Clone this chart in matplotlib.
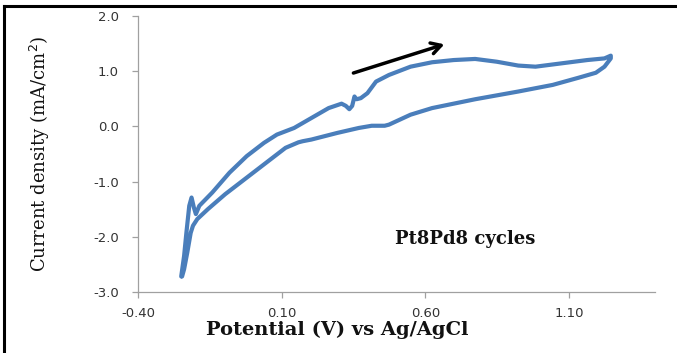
import matplotlib
matplotlib.use("Agg")
import matplotlib.pyplot as plt
from matplotlib.lines import Line2D

# Forward (anodic) branch
fwd_x = [-0.250, -0.240, -0.232, -0.222, -0.214, -0.206, -0.199, -0.187, -0.142, -0.082,
         -0.022, 0.038, 0.083, 0.143, 0.203, 0.263, 0.308, 0.323, 0.335, 0.345, 0.353,
         0.360, 0.375, 0.398, 0.428, 0.473, 0.548, 0.623, 0.698, 0.773, 0.848, 0.923,
         0.983, 1.073, 1.163, 1.223, 1.245]
fwd_y = [-2.72, -2.35, -1.93, -1.44, -1.29, -1.47, -1.59, -1.44, -1.20, -0.84,
         -0.54, -0.30, -0.15, -0.03, 0.15, 0.33, 0.41, 0.37, 0.31, 0.37, 0.54,
         0.49, 0.51, 0.60, 0.81, 0.93, 1.08, 1.16, 1.20, 1.22, 1.17, 1.10,
         1.08, 1.14, 1.20, 1.23, 1.28]
# Reverse (cathodic) branch
rev_x = [1.245, 1.223, 1.193, 1.133, 1.043, 0.923, 0.773, 0.623, 0.548, 0.473, 0.458,
         0.413, 0.368, 0.293, 0.203, 0.173, 0.158, 0.113, 0.083, 0.023, -0.037, -0.097,
         -0.157, -0.194, -0.209, -0.217, -0.229, -0.240, -0.247]
rev_y = [1.23, 1.08, 0.97, 0.88, 0.75, 0.63, 0.49, 0.33, 0.21, 0.03, 0.01,
         0.01, -0.03, -0.12, -0.24, -0.27, -0.29, -0.39, -0.51, -0.75, -0.99, -1.23,
         -1.50, -1.68, -1.80, -1.93, -2.29, -2.59, -2.72]

x_ticks = [-0.40, 0.10, 0.60, 1.10]
y_ticks = [-3.0, -2.0, -1.0, 0.0, 1.0, 2.0]
x_label = "Potential (V) vs Ag/AgCl"
y_label = "Current density (mA/cm$^2$)"
annotation = "Pt8Pd8 cycles"

fig = plt.figure(figsize=(6.77, 3.53), dpi=100)
ax = fig.add_axes([0.204, 0.173, 0.764, 0.782])

line_color = "#4A7EBB"
ax.plot(fwd_x + rev_x, fwd_y + rev_y, color=line_color, lw=3.0,
        solid_joinstyle="round", solid_capstyle="round")

ax.set_xlim(-0.4, 1.4)
ax.set_ylim(-3.0, 2.0)
ax.set_xticks(x_ticks)
ax.set_xticklabels([f"{v:.2f}" for v in x_ticks])
ax.set_yticks(y_ticks)
ax.set_yticklabels([f"{v:.1f}" for v in y_ticks])

for s in ["top", "right"]:
    ax.spines[s].set_visible(False)
for s in ["left", "bottom"]:
    ax.spines[s].set_color("#A0A0A0")
    ax.spines[s].set_linewidth(0.9)
ax.tick_params(axis="both", colors="#A0A0A0", length=4, width=0.9,
               labelcolor="#333333", labelsize=10)
ax.tick_params(axis="x", pad=7)
ax.tick_params(axis="y", pad=10)
for lab in ax.get_xticklabels() + ax.get_yticklabels():
    lab.set_family("DejaVu Sans")
    lab.set_fontsize(9.5)

ax.set_xlabel(x_label, family="DejaVu Serif", fontweight="bold", fontsize=14,
              color="#111111")
ax.xaxis.set_label_coords(0.385, -0.105)
ax.set_ylabel(y_label, family="DejaVu Serif", fontsize=13,
              color="#111111")
ax.yaxis.set_label_coords(-0.166, 0.5)

ax.text(0.495, -2.05, annotation, family="DejaVu Serif", fontweight="bold",
        fontsize=13, va="center", ha="left", color="#111111")

ax.annotate("", xy=(0.675, 1.50), xytext=(0.34, 0.95),
            arrowprops=dict(arrowstyle="->,head_length=0.7,head_width=0.4",
                            color="black", lw=2.5))

# Figure frame (top and left edges visible)
fig.add_artist(Line2D([0.006, 0.006], [0.0, 0.983], transform=fig.transFigure,
                      color="black", lw=2.2))
fig.add_artist(Line2D([0.006, 1.0], [0.983, 0.983], transform=fig.transFigure,
                      color="black", lw=2.2))

fig.savefig("out.png", dpi=100)
